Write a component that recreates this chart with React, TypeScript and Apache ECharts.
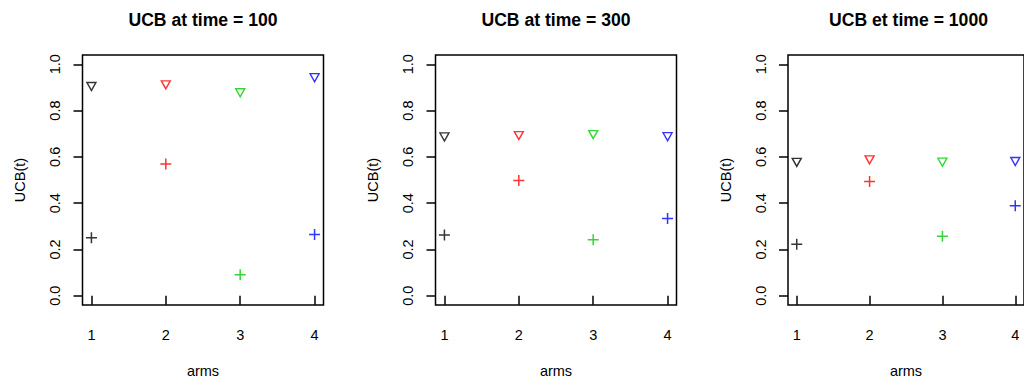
import React, { useEffect, useRef } from "react";
import * as echarts from "echarts";

const arms = [1, 2, 3, 4];
const armColors = ["#000000", "#FF0000", "#00CD00", "#0000FF"];
const yTicks = [0, 0.2, 0.4, 0.6, 0.8, 1.0];

const panelTitles = ["UCB at time = 100", "UCB at time = 300", "UCB et time = 1000"];

// upper confidence bounds (down triangles)
const ucb100 = [0.904, 0.911, 0.877, 0.942];
const ucb300 = [0.686, 0.692, 0.696, 0.687];
const ucb1000 = [0.576, 0.587, 0.577, 0.58];

// empirical means (plus signs)
const mean100 = [0.25, 0.569, 0.091, 0.265];
const mean300 = [0.262, 0.498, 0.242, 0.334];
const mean1000 = [0.222, 0.494, 0.257, 0.389];

const ucbPanels = [ucb100, ucb300, ucb1000];
const meanPanels = [mean100, mean300, mean1000];

const FONT = "'Liberation Sans', Arial, Helvetica, sans-serif";
const PLUS = "path://M0,5L10,5M5,0L5,10";

export default function App() {
  const ref = useRef<HTMLDivElement>(null);

  useEffect(() => {
    if (!ref.current) return;
    const chart = echarts.init(ref.current, null, { renderer: "svg" });

    const gridLefts = [82.5, 435.5, 788];
    const gridW = 241;
    const gridTop = 55;
    const gridH = 254.7;

    const grids = gridLefts.map((l) => ({
      left: l,
      top: gridTop,
      width: gridW,
      height: gridH,
      show: true,
      borderColor: "#000",
      borderWidth: 1.5,
      backgroundColor: "transparent",
      containLabel: false,
    }));

    const xAxes = gridLefts.map((_, i) => ({
      type: "value",
      gridIndex: i,
      min: 0.88,
      max: 4.12,
      axisLine: { show: false },
      splitLine: { show: false },
      axisTick: {
        show: true,
        customValues: arms,
        length: 9,
        lineStyle: { color: "#000", width: 1.5 },
      },
      axisLabel: {
        customValues: arms,
        margin: 22,
        fontSize: 14.5,
        color: "#000",
        fontFamily: FONT,
        formatter: (v: number) => String(v),
      },
      name: "arms",
      nameLocation: "middle",
      nameGap: 58,
      nameTextStyle: { fontSize: 14.5, color: "#000", fontFamily: FONT },
    }));

    const yAxes = gridLefts.map((_, i) => ({
      type: "value",
      gridIndex: i,
      min: -0.04,
      max: 1.04,
      axisLine: { show: false },
      splitLine: { show: false },
      axisTick: {
        show: true,
        customValues: yTicks,
        length: 9,
        lineStyle: { color: "#000", width: 1.5 },
      },
      axisLabel: {
        customValues: yTicks,
        rotate: 90,
        margin: 20,
        fontSize: 14.5,
        color: "#000",
        fontFamily: FONT,
        formatter: (v: number) => v.toFixed(1),
      },
      name: "UCB(t)",
      nameLocation: "middle",
      nameGap: 55,
      nameTextStyle: { fontSize: 14.5, color: "#000", fontFamily: FONT },
    }));

    const series: any[] = [];
    for (let p = 0; p < 3; p++) {
      series.push({
        type: "scatter",
        xAxisIndex: p,
        yAxisIndex: p,
        symbol: "triangle",
        symbolRotate: 180,
        symbolSize: [9, 8],
        data: arms.map((a, k) => ({
          value: [a, ucbPanels[p][k]],
          itemStyle: { color: "none", borderColor: armColors[k], borderWidth: 1.4 },
        })),
      });
      series.push({
        type: "scatter",
        xAxisIndex: p,
        yAxisIndex: p,
        symbol: PLUS,
        symbolSize: 11,
        data: arms.map((a, k) => ({
          value: [a, meanPanels[p][k]],
          itemStyle: { color: "none", borderColor: armColors[k], borderWidth: 1.5 },
        })),
      });
    }

    chart.setOption({
      animation: false,
      backgroundColor: "#ffffff",
      title: panelTitles.map((t, i) => ({
        text: t,
        left: gridLefts[i] + gridW / 2,
        top: 11,
        textAlign: "center",
        padding: 0,
        textStyle: { fontSize: 17.6, fontWeight: "bold", color: "#000", fontFamily: FONT },
      })),
      grid: grids,
      xAxis: xAxes,
      yAxis: yAxes,
      series,
    });

    return () => chart.dispose();
  }, []);

  return (
    <div
      ref={ref}
      style={{ position: "fixed", left: 0, top: 0, width: 1024, height: 383, overflow: "hidden", background: "#fff" }}
    />
  );
}
